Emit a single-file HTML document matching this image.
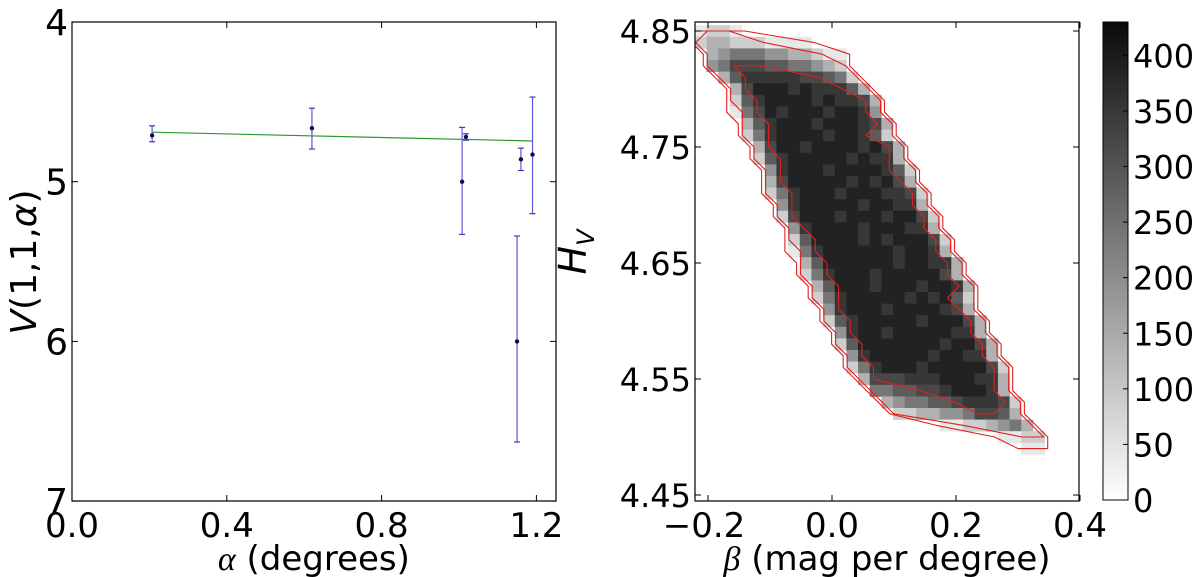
<!DOCTYPE html>
<html><head><meta charset="utf-8"><style>
html,body{margin:0;padding:0;background:#fff}
svg{display:block}
text{font-family:"DejaVu Sans","Liberation Sans",sans-serif;fill:#000}
</style></head><body>
<svg id="fig" width="1200" height="577" viewBox="0 0 1200 577" xmlns="http://www.w3.org/2000/svg">
<defs>
<clipPath id="clipR"><rect x="695" y="22" width="384" height="479"/></clipPath>
<linearGradient id="cbg" x1="0" y1="1" x2="0" y2="0"><stop offset="0" stop-color="#ffffff"/><stop offset="1" stop-color="#0a0a0a"/></linearGradient>
</defs>
<g id="left"></g>
<g id="right"></g>
<g id="cbar"></g>
</svg>
<script>
// ---- left panel data ----
const alphaVals = [0.207, 0.62, 1.008, 1.018, 1.15, 1.16, 1.19];
const magVals   = [4.71, 4.665, 5.0, 4.72, 6.0, 4.86, 4.83];
const errLow    = [0.06, 0.125, 0.34, 0.02, 0.66, 0.07, 0.36];
const errHigh   = [0.04, 0.13, 0.33, 0.02, 0.63, 0.07, 0.37];
const fitAlpha  = [0.207, 1.19];
const fitMag    = [4.69, 4.745];
const leftXTicks = [0.0, 0.4, 0.8, 1.2];
const leftXTickLabels = ["0.0", "0.4", "0.8", "1.2"];
const leftYTicks = [4, 5, 6, 7];
const leftYTickLabels = ["4", "5", "6", "7"];
// ---- right panel data ----
const betaTicks = [-0.2, 0.0, 0.2, 0.4];
const betaTickLabels = ["\u22120.2", "0.0", "0.2", "0.4"];
const hTicks = [4.85, 4.75, 4.65, 4.55, 4.45];
const hTickLabels = ["4.85", "4.75", "4.65", "4.55", "4.45"];
const rowStarts = [1,1,2,2,3,4,4,4,5,5,6,6,7,7,7,8,8,9,9,9,10,10,11,11,12,12,13,13,14,14,15,16,17,18,22,27,29];
const rowLevels = [
"1221","2332221111","345554433211","457776655432","368888877652","379998988863",
"2689999898873","1579899989984","3689998999873","2589999899862","3799899998973",
"2689999989883","4899989999862","3799999898973","25899989998872","4899999899883",
"27999899989972","4899998999883","26999989899972","15899999989983","36999999899883",
"25899989999973","36999899989983","25899999898962","4899989999873","26899999899973",
"4899899999883","26999999989973","4899999899883","25899989999972","3777888999883",
"556677899983","345566788872","22334457763","11223453","1122","11"];
const levelCounts = [0,45,90,140,190,240,285,320,350,385];
const cbTicks = [0,50,100,150,200,250,300,350,400];
const cbTickLabels = ["0","50","100","150","200","250","300","350","400"];

const NS = "http://www.w3.org/2000/svg";
function mk(tag, attrs, parent){const e=document.createElementNS(NS,tag);for(const k in attrs)e.setAttribute(k,attrs[k]);parent.appendChild(e);return e;}

const xL = a => 72 + a*387;
const yL = v => 22 + (v-4)*159.7;
const xR = b => 832 + b*620;
const yR = h => 31 + (4.85-h)*1160;
const CMAX = 430;
const yC = c => 500 - c/CMAX*478;

// ---- LEFT ----
const L = document.getElementById('left');
let e;
e = mk('rect',{x:72,y:22,width:484,height:479,fill:'none',stroke:'#000','stroke-width':1.2},L);


leftXTicks.forEach((t,i)=>{
  e = mk('line',{x1:xL(t),x2:xL(t),y1:501,y2:495,stroke:'#000'},L);
  
  
  mk('line',{x1:xL(t),x2:xL(t),y1:22,y2:28,stroke:'#000'},L);
  e = mk('text',{x:xL(t),y:537,'font-size':34,'text-anchor':'middle'},L);
  e.textContent = leftXTickLabels[i];
  
  
});
leftYTicks.forEach((t,i)=>{
  mk('line',{x1:72,x2:78,y1:yL(t),y2:yL(t),stroke:'#000'},L);
  mk('line',{x1:556,x2:550,y1:yL(t),y2:yL(t),stroke:'#000'},L);
  e = mk('text',{x:68,y:yL(t)+13,'font-size':36,'text-anchor':'end'},L);
  e.textContent = leftYTickLabels[i];
  
  
});
e = mk('line',{x1:xL(fitAlpha[0]),y1:yL(fitMag[0]),x2:xL(fitAlpha[1]),y2:yL(fitMag[1]),stroke:'#2a9a2a','stroke-width':1.2},L);


alphaVals.forEach((a,i)=>{
  const x=xL(a), y1=yL(magVals[i]-errLow[i]), y2=yL(magVals[i]+errHigh[i]);
  e = mk('line',{x1:x,x2:x,y1:y1,y2:y2,stroke:'#5a5ad8','stroke-width':1.2},L);
  
  
  mk('line',{x1:x-3,x2:x+3,y1:y1,y2:y1,stroke:'#3a3ab8','stroke-width':1.2},L);
  mk('line',{x1:x-3,x2:x+3,y1:y2,y2:y2,stroke:'#3a3ab8','stroke-width':1.2},L);
  e = mk('circle',{cx:x,cy:yL(magVals[i]),r:2.2,fill:'#101040'},L);
  
  
});
e = mk('text',{x:xL(0.625),y:570,'font-size':34,'text-anchor':'middle'},L);
e.innerHTML = '<tspan font-family="Liberation Serif,serif" font-style="italic">α</tspan> (degrees)';


e = mk('text',{x:0,y:0,'font-size':36,'text-anchor':'middle',transform:'translate(36,262) rotate(-90)','font-family':'Liberation Serif,serif'},L);
e.innerHTML = '<tspan font-style="italic">V</tspan>(1,1,<tspan font-style="italic">α</tspan>)';



// ---- RIGHT ----
const R = document.getElementById('right');
const hm = mk('g',{'clip-path':'url(#clipR)'},R);


const B0=-0.24, DB=0.0188, H0=4.855, DH=0.01;
rowLevels.forEach((s,j)=>{
  for(let k=0;k<s.length;k++){
    const c = levelCounts[+s[k]];
    if(c<=0) continue;
    const i=rowStarts[j]+k;
    const x0=xR(B0+i*DB), x1=xR(B0+(i+1)*DB);
    const y0=yR(H0-j*DH), y1=yR(H0-(j+1)*DH);
    const g=Math.round(250*(1-c/CMAX)+8);
    const r=mk('rect',{x:x0,y:y0,width:x1-x0+0.4,height:y1-y0+0.4,fill:`rgb(${g},${g},${g})`},hm);
    
    
  }
});
function contour(t, off){
  const lp=[], rp=[];
  rowLevels.forEach((s,j)=>{
    let f=-1,l=-1;
    for(let k=0;k<s.length;k++){ if(+s[k]>=t){ if(f<0)f=k; l=k; } }
    if(f<0) return;
    const yc=yR(H0-(j+0.5)*DH);
    lp.push([xR(B0+(rowStarts[j]+f+0.5)*DB)-off, yc]);
    rp.push([xR(B0+(rowStarts[j]+l+0.5)*DB)+off, yc]);
  });
  const pts=lp.concat(rp.reverse());
  return 'M'+pts.map(p=>p[0].toFixed(1)+','+p[1].toFixed(1)).join('L')+'Z';
}
[[1,9],[2,5],[7,2]].forEach(([t,o])=>{
  const p=mk('path',{d:contour(t,o),fill:'none',stroke:'#e02020','stroke-width':1.1,'stroke-linejoin':'round'},hm);
  
  
});
e = mk('rect',{x:695,y:22,width:384,height:479,fill:'none',stroke:'#000','stroke-width':1.2},R);


betaTicks.forEach((t,i)=>{
  mk('line',{x1:xR(t),x2:xR(t),y1:501,y2:495,stroke:'#000'},R);
  mk('line',{x1:xR(t),x2:xR(t),y1:22,y2:28,stroke:'#000'},R);
  e = mk('text',{x:xR(t)-(i===0?4:0),y:537,'font-size':34,'text-anchor':'middle'},R);
  e.textContent = betaTickLabels[i];
  
  
});
hTicks.forEach((t,i)=>{
  mk('line',{x1:695,x2:701,y1:yR(t),y2:yR(t),stroke:'#000'},R);
  mk('line',{x1:1079,x2:1073,y1:yR(t),y2:yR(t),stroke:'#000'},R);
  e = mk('text',{x:691,y:yR(t)+12,'font-size':32,'text-anchor':'end'},R);
  e.textContent = hTickLabels[i];
  
  
});
e = mk('text',{x:887,y:570,'font-size':34,'text-anchor':'middle'},R);
e.innerHTML = '<tspan font-family="Liberation Serif,serif" font-style="italic">β</tspan> (mag per degree)';


e = mk('text',{x:0,y:0,'font-size':38,'text-anchor':'middle',transform:'translate(586,252) rotate(-90)','font-family':'Liberation Serif,serif','font-style':'italic'},R);
e.innerHTML = 'H<tspan font-size="24" dy="8">V</tspan>';



// ---- COLORBAR ----
const C = document.getElementById('cbar');
e = mk('rect',{x:1103,y:22,width:25,height:478,fill:'url(#cbg)',stroke:'#000','stroke-width':1},C);


cbTicks.forEach((t,i)=>{
  mk('line',{x1:1128,x2:1123,y1:yC(t),y2:yC(t),stroke:'#000'},C);
  e = mk('text',{x:1133,y:yC(t)+12,'font-size':32},C);
  e.textContent = cbTickLabels[i];
  
  
});
</script>
</body></html>
